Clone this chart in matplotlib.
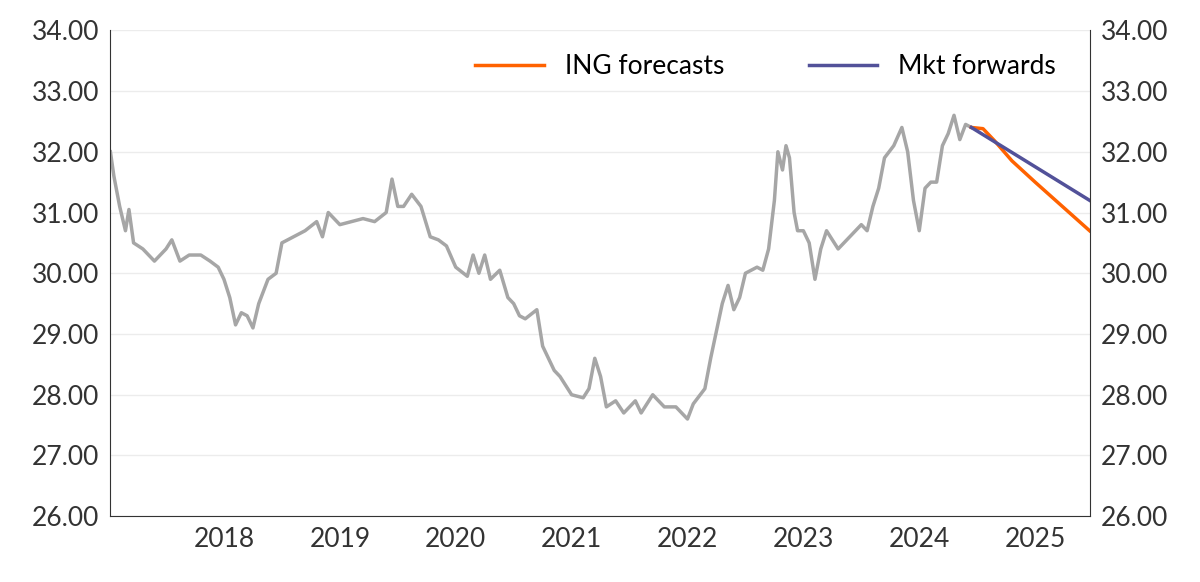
import matplotlib
matplotlib.use("Agg")
import matplotlib.pyplot as plt

plt.rcParams['font.family'] = ['Lato', 'DejaVu Sans']

# history (decimal year, value)
hist_x = [2017.02, 2017.05, 2017.1, 2017.15, 2017.18, 2017.22, 2017.3, 2017.4, 2017.5, 2017.55,
          2017.62, 2017.7, 2017.8, 2017.88, 2017.95, 2018.0, 2018.05, 2018.1, 2018.15, 2018.2,
          2018.25, 2018.3, 2018.38, 2018.45, 2018.5, 2018.6, 2018.7, 2018.8, 2018.85, 2018.9,
          2019.0, 2019.1, 2019.2, 2019.3, 2019.4, 2019.45, 2019.5, 2019.55, 2019.62, 2019.7,
          2019.78, 2019.85, 2019.92, 2020.0, 2020.1, 2020.15, 2020.2, 2020.25, 2020.3, 2020.38,
          2020.45, 2020.5, 2020.55, 2020.6, 2020.7, 2020.75, 2020.8, 2020.85, 2020.9, 2021.0,
          2021.1, 2021.15, 2021.2, 2021.25, 2021.3, 2021.38, 2021.45, 2021.55, 2021.6, 2021.7,
          2021.8, 2021.9, 2022.0, 2022.05, 2022.15, 2022.2, 2022.3, 2022.35, 2022.4, 2022.45,
          2022.5, 2022.6, 2022.65, 2022.7, 2022.75, 2022.78, 2022.82, 2022.85, 2022.88, 2022.92,
          2022.95, 2023.0, 2023.05, 2023.1, 2023.15, 2023.2, 2023.3, 2023.4, 2023.5, 2023.55,
          2023.6, 2023.65, 2023.7, 2023.78, 2023.85, 2023.9, 2023.95, 2024.0, 2024.05, 2024.1,
          2024.15, 2024.2, 2024.25, 2024.3, 2024.35, 2024.4, 2024.45]
hist_y = [32.0, 31.6, 31.1, 30.7, 31.05, 30.5, 30.4, 30.2, 30.4, 30.55,
          30.2, 30.3, 30.3, 30.2, 30.1, 29.9, 29.6, 29.15, 29.35, 29.3,
          29.1, 29.5, 29.9, 30.0, 30.5, 30.6, 30.7, 30.85, 30.6, 31.0,
          30.8, 30.85, 30.9, 30.85, 31.0, 31.55, 31.1, 31.1, 31.3, 31.1,
          30.6, 30.55, 30.45, 30.1, 29.95, 30.3, 30.0, 30.3, 29.9, 30.05,
          29.6, 29.5, 29.3, 29.25, 29.4, 28.8, 28.6, 28.4, 28.3, 28.0,
          27.95, 28.1, 28.6, 28.3, 27.8, 27.9, 27.7, 27.9, 27.7, 28.0,
          27.8, 27.8, 27.6, 27.85, 28.1, 28.6, 29.5, 29.8, 29.4, 29.6,
          30.0, 30.1, 30.05, 30.4, 31.2, 32.0, 31.7, 32.1, 31.9, 31.0,
          30.7, 30.7, 30.5, 29.9, 30.4, 30.7, 30.4, 30.6, 30.8, 30.7,
          31.1, 31.4, 31.9, 32.1, 32.4, 32.0, 31.2, 30.7, 31.4, 31.5,
          31.5, 32.1, 32.3, 32.6, 32.2, 32.45, 32.4]

ing_x = [2024.45, 2024.55, 2024.65, 2024.8, 2025.0, 2025.47]
ing_y = [32.4, 32.38, 32.18, 31.85, 31.5, 30.7]
fwd_x = [2024.45, 2025.47]
fwd_y = [32.4, 31.2]

years = list(range(2018, 2026))

fig, ax = plt.subplots(figsize=(12, 5.82), dpi=100)
fig.subplots_adjust(left=0.092, right=0.908, top=0.948, bottom=0.113)

ax.plot(hist_x, hist_y, color='#a6a6a6', lw=2.5)
ax.plot(ing_x, ing_y, color='#ff6200', lw=2.5, label='ING forecasts')
ax.plot(fwd_x, fwd_y, color='#525199', lw=2.5, label='Mkt forwards')

ax.set_xlim(2017.02, 2025.47)
ax.set_ylim(26, 34)
ax.set_yticks(range(26, 35))
ax.set_yticklabels([f'{v:.2f}' for v in range(26, 35)])
ax.set_xticks(years)
ax.set_xticklabels([str(y) for y in years])
ax.grid(axis='y', color='#ececec', lw=1)
ax.set_axisbelow(True)
ax.tick_params(axis='both', length=0, labelsize=19, colors='#333333', pad=8)
ax.tick_params(axis='y', labelright=True)
for s in ['left', 'right', 'bottom']:
    ax.spines[s].set_color('#333333')
ax.spines['top'].set_visible(False)

ax.legend(loc='upper right', ncol=2, frameon=False, fontsize=19, handlelength=2.6,
          columnspacing=3.2, bbox_to_anchor=(0.99, 1.0))

fig.savefig('out.png')
